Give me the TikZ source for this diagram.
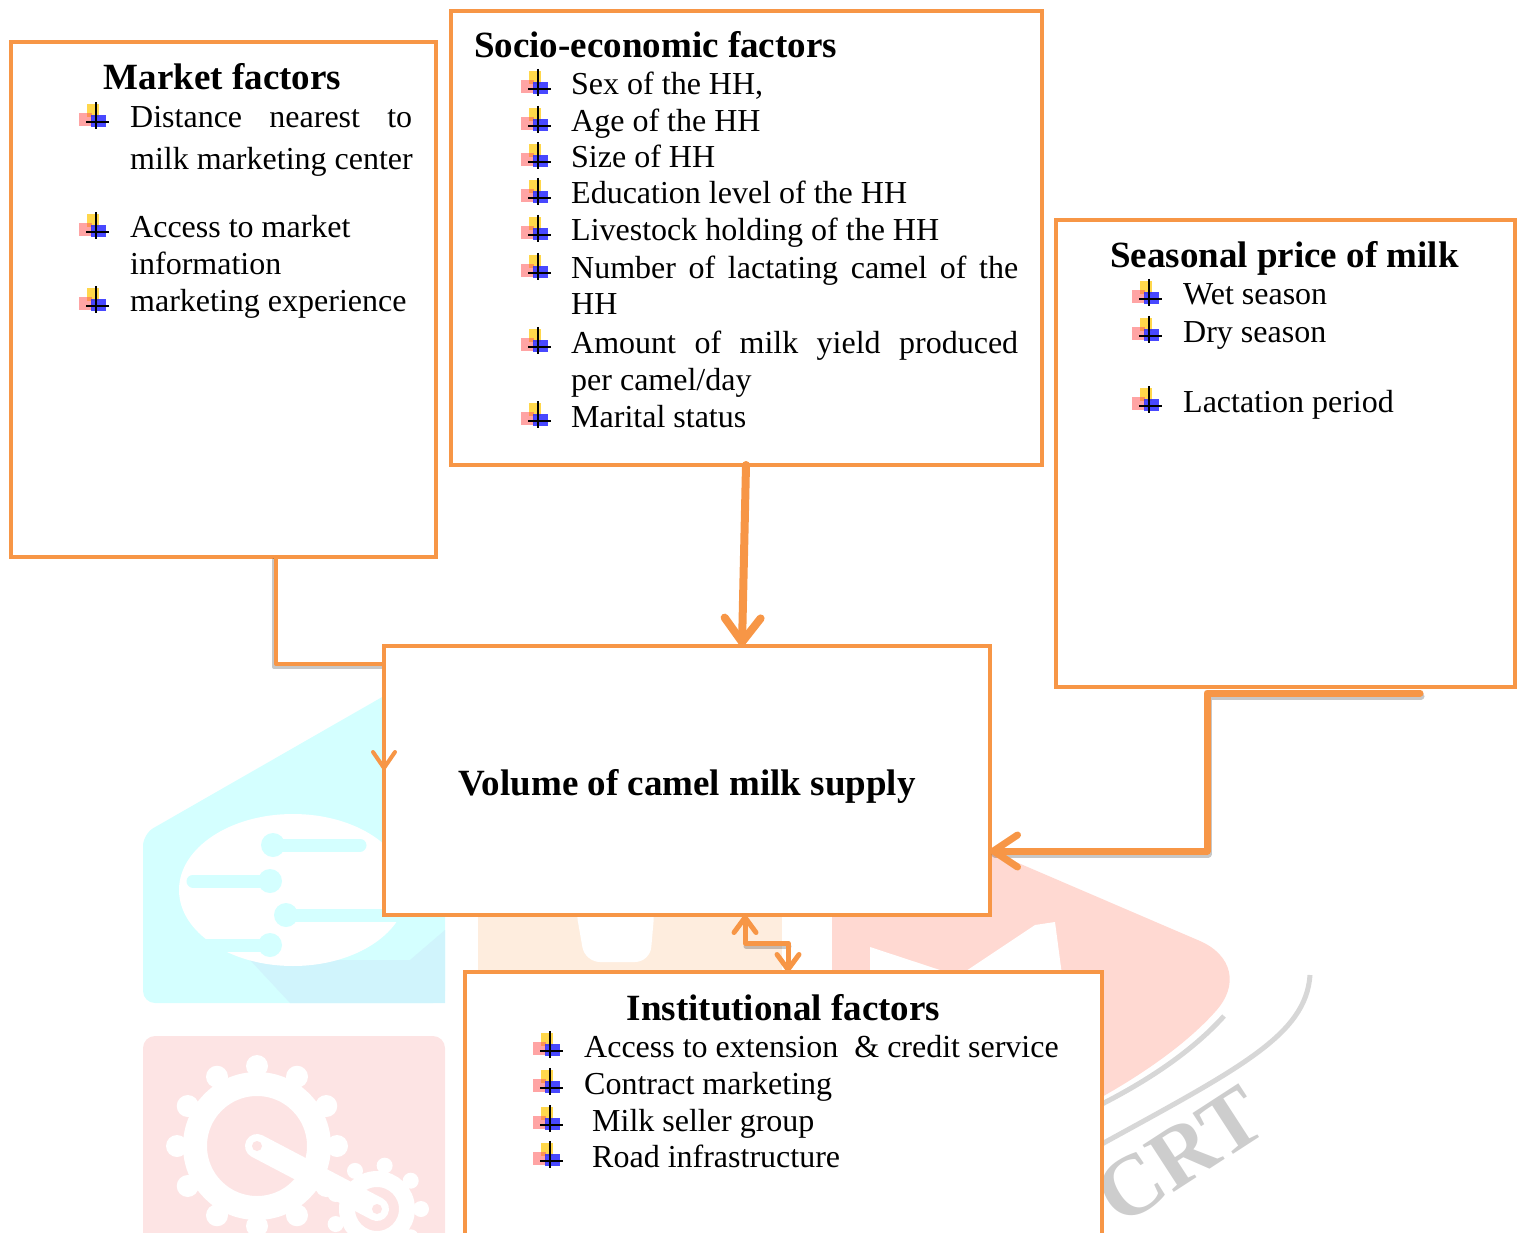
\documentclass[tikz,border=0pt]{standalone}
\usepackage{fontspec}
\setmainfont{Liberation Serif}
\usetikzlibrary{arrows.meta}
\definecolor{org}{HTML}{F79646}
\definecolor{wmcyan}{RGB}{212,255,255}
\definecolor{wmcyantwo}{RGB}{208,244,252}
\definecolor{wmpink}{RGB}{253,228,228}
\definecolor{wmpeach}{RGB}{254,237,222}
\definecolor{wmred}{RGB}{255,217,210}
\definecolor{wmgray}{RGB}{205,205,205}
\definecolor{buly}{RGB}{255,205,30}
\definecolor{bulr}{RGB}{255,90,90}
\definecolor{bulb}{RGB}{40,40,255}
\newcommand\bodyfont{\fontsize{32}{37}\selectfont}
\newcommand\ttlfont{\fontsize{37}{42}\selectfont\bfseries}
\begin{document}
\begin{tikzpicture}[x=1pt,y=-1pt,
  box/.style={draw=org, line width=4pt, fill=white, rectangle, inner sep=0pt, outer sep=0pt},
  txt/.style={anchor=base west, inner sep=0pt, font=\bodyfont},
  ttl/.style={anchor=base, inner sep=0pt, font=\ttlfont},
  conn/.style={draw=org, line cap=round, line join=round},
  shad/.style={draw=black, opacity=0.22, line cap=round, line join=round},
  bul/.pic={
    \fill[buly, opacity=0.8] (-9,-18) rectangle (3,-5);
    \fill[bulr, opacity=0.55] (-17,-9) rectangle (-4,4);
    \fill[bulb, opacity=0.85] (-5,-7) rectangle (10,5);
    \draw[line width=2pt] (0,-20) -- (0,7) (-10,0) -- (13,0);
  }]
\clip (0,0) rectangle (1518,1233);
% ---------- watermark ----------
\fill[wmcyan, rounded corners=12pt] (143,834) -- (445,661) -- (445,1003) -- (143,1003) -- cycle;
\fill[wmcyantwo] (250,960) -- (410,960) -- (445,930) -- (445,1003) -- (290,1003) -- cycle;
\fill[white] (293,890) ellipse [x radius=114, y radius=76];
\begin{scope}[wmcyan, line width=13pt, line cap=round]
  \draw (273,845) -- (360,845);
  \draw (193,881) -- (270,881);
  \draw (286,915) -- (410,915);
  \draw (197,945) -- (270,945);
  \fill (273,845) circle[radius=12];
  \fill (270,881) circle[radius=12];
  \fill (286,915) circle[radius=12];
  \fill (270,945) circle[radius=12];
\end{scope}
\fill[wmpink, rounded corners=12pt] (143,1036) rectangle (445,1280);
\begin{scope}[white]
  \draw[line width=24pt] (257,1146) circle[radius=62];
  \foreach \a in {0,30,...,330} \fill (257,1146) ++(\a:80) circle[radius=11];
  \draw[line width=16pt] (377,1209) circle[radius=30];
  \foreach \a in {0,40,...,320} \fill (377,1209) ++(\a:44) circle[radius=8];
  \draw[line width=24pt, line cap=round] (257,1146) -- (377,1209);
\end{scope}
\fill[wmpink] (257,1146) circle[radius=5] (377,1209) circle[radius=5];
\fill[wmpeach] (478,915) rectangle (782,975);
\fill[white, rounded corners=15pt] (575,905) -- (655,905) -- (650,962) -- (585,962) -- cycle;
\fill[wmred] (832,783) -- (1200,941) .. controls (1232,955) and (1240,985) .. (1215,1012)
  .. controls (1190,1040) and (1150,1070) .. (1100,1098) -- (1000,1177) -- (832,1177) -- cycle;
\draw[wmgray!80, line width=5pt] (1224,1016) .. controls (1197,1046) and (1157,1076) .. (1100,1105);
\fill[white] (870,947) -- (955,975) -- (870,975) -- cycle;
\fill[white] (960,975) -- (1035,925) -- (1055,922) -- (1062,975) -- cycle;
\draw[wmgray!80, line width=5pt] (1310,975) .. controls (1306,1035) and (1240,1068) .. (1100,1145);
\node[font=\fontsize{86}{86}\selectfont\bfseries, text=wmgray, rotate=33, inner sep=0pt] (wm) at (1180,1155) {CRT};
% ---------- boxes ----------
\node[box, minimum width=425pt, minimum height=515pt] (market) at (223.5,299.5) {};
\node[box, minimum width=591pt, minimum height=454pt] (socio) at (746.5,238) {};
\node[box, minimum width=459pt, minimum height=467pt] (season) at (1285.5,453.5) {};
\node[box, minimum width=606pt, minimum height=269pt] (vol) at (687,780.5) {};
\node[box, minimum width=637pt, minimum height=276pt] (inst) at (783.5,1110) {};
% ---------- market text ----------
\node[ttl] (mt) at (222.5,90) {Market factors};
\node[txt] (ma) at (130,128) {\makebox[282pt][s]{Distance nearest to}};
\node[txt] (mb) at (130,170) {milk marketing center};
\node[txt] (mc) at (130,238) {Access to market};
\node[txt] (md) at (130,275) {information};
\node[txt] (me) at (130,312) {marketing experience};
\foreach \b in {128,238,312} \pic at (96,\b-6) {bul};
% ---------- socio text ----------
\node[ttl, anchor=base west] (st) at (474,58) {Socio-economic factors};
\node[txt] (sa) at (571,95) {Sex of the HH,};
\node[txt] (sb) at (571,132) {Age of the HH};
\node[txt] (sc) at (571,168) {Size of HH};
\node[txt] (sd) at (571,204) {Education level of the HH};
\node[txt] (se) at (571,241) {Livestock holding of the HH};
\node[txt] (sf) at (571,279) {\makebox[447pt][s]{Number of lactating camel of the}};
\node[txt] (sg) at (571,315) {HH};
\node[txt] (sh) at (571,353) {\makebox[447pt][s]{Amount of milk yield produced}};
\node[txt] (si) at (571,390) {per camel/day};
\node[txt] (sj) at (571,427) {Marital status};
\foreach \b in {95,132,168,204,241,279,353,427} \pic at (538,\b-6) {bul};
% ---------- season text ----------
\node[ttl, anchor=base west] (pt) at (1110,268) {Seasonal price of milk};
\node[txt] (pa) at (1183,305) {Wet season};
\node[txt] (pb) at (1183,342) {Dry season};
\node[txt] (pc) at (1183,412) {Lactation period};
\foreach \b in {305,342,412} \pic at (1149,\b-6) {bul};
% ---------- volume ----------
\node[ttl] (vt) at (687,795) {Volume of camel milk supply};
% ---------- institutional ----------
\node[ttl] (it) at (783.5,1020) {Institutional factors};
\node[txt] (ia) at (584,1057) {Access to extension\ \ \& credit service};
\node[txt] (ib) at (584,1094) {Contract marketing};
\node[txt] (ic) at (592,1131) {Milk seller group};
\node[txt] (id) at (592,1167) {Road infrastructure};
\foreach \b in {1057,1094,1131,1167} \pic at (550,\b-6) {bul};
% ---------- connectors ----------
\coordinate (m1) at (276,664);
\coordinate (m2) at (0,770);
\coordinate (a0) at (746,0);
\coordinate (a1) at (742,0);
\coordinate (s0) at (1420,693);
\coordinate (s1) at (1207,693);
\coordinate (s2) at (1207,851);
\coordinate (d1) at (745,943);
\coordinate (d2) at (788,943);
\begin{scope}[transform canvas={shift={(-2pt,-3pt)}}]
  \draw[shad, line width=4pt] (market.south -| m1) -- (m1) -- (vol.west |- m1);
\end{scope}
\begin{scope}[transform canvas={shift={(1pt,-3pt)}}]
  \draw[shad, line width=7pt] (s0) -- (s1) -- (s2) -- ([xshift=4pt]vol.east |- s2);
  \draw[shad, line width=5pt] (d1) -- (d2);
\end{scope}
\draw[conn, line width=4pt, -{Straight Barb[round, length=16pt, width=22pt]}]
  (market.south -| m1) -- (m1) -- (vol.west |- m1) -- (vol.west |- m2);
\draw[conn, line width=8pt, -{Straight Barb[round, length=24pt, width=36pt]}]
  (socio.south -| a0) -- (vol.north -| a1);
\draw[conn, line width=7pt, -{Straight Barb[round, length=24pt, width=32pt]}]
  (s0) -- (s1) -- (s2) -- (vol.east |- s2);
\draw[conn, line width=5pt, {Straight Barb[round, length=15pt, width=22pt]}-{Straight Barb[round, length=15pt, width=22pt]}]
  (vol.south -| d1) -- (d1) -- (d2) -- (inst.north -| d2);
\end{tikzpicture}
\end{document}
